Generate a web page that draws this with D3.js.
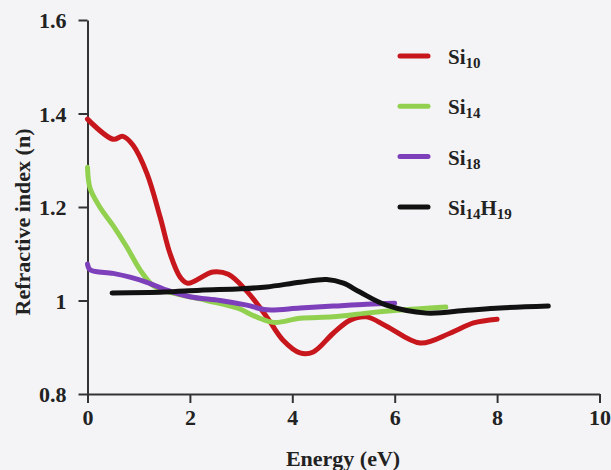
<!DOCTYPE html>
<html>
<head>
<meta charset="utf-8">
<script src="https://cdn.jsdelivr.net/npm/d3@7"></script>
<style>
  body { margin: 0; background: #f4f4f6; }
  svg { display: block; }
  .axis path, .axis line { stroke: #333; stroke-width: 2; }
  .axis text { font-family: "Liberation Serif", serif; font-weight: bold; font-size: 22px; fill: #222; }
</style>
</head>
<body>
<svg width="611" height="470"></svg>
<script>
// Energy (eV) / refractive index values
const si10X = [0, 0.5, 0.69, 0.89, 1.16, 1.42, 1.61, 1.81, 1.96, 2.45, 2.75, 3.11, 3.5, 3.82, 4.15, 4.41, 4.8, 5.13, 5.45, 5.84, 6.5, 7.08, 7.54, 8.0];
const si10Y = [1.388, 1.345, 1.351, 1.332, 1.272, 1.178, 1.101, 1.05, 1.037, 1.061, 1.056, 1.02, 0.965, 0.915, 0.888, 0.89, 0.93, 0.958, 0.965, 0.945, 0.909, 0.93, 0.952, 0.96];

const si14X = [0, 0.05, 0.24, 0.5, 0.77, 1.03, 1.28, 1.6, 2.33, 2.92, 3.3, 3.65, 4.15, 4.8, 5.45, 6.05, 7.0];
const si14Y = [1.285, 1.24, 1.2, 1.16, 1.114, 1.065, 1.032, 1.018, 1.0, 0.984, 0.965, 0.953, 0.962, 0.965, 0.973, 0.979, 0.986];

const si18X = [0, 0.05, 0.5, 0.83, 1.16, 1.55, 2.0, 2.59, 3.11, 3.5, 4.15, 4.8, 5.45, 6.0];
const si18Y = [1.078, 1.066, 1.058, 1.05, 1.039, 1.022, 1.008, 1.0, 0.99, 0.98, 0.984, 0.988, 0.992, 0.994];

const si14h19X = [0.48, 1.5, 2.2, 3.0, 3.5, 4.15, 4.67, 5.0, 5.32, 5.84, 6.62, 7.41, 8.06, 9.0];
const si14h19Y = [1.016, 1.018, 1.022, 1.025, 1.029, 1.039, 1.045, 1.037, 1.018, 0.99, 0.973, 0.979, 0.984, 0.988];

const seriesNames = ["10", "14", "18", "14H19"];
const seriesColors = ["#c8161d", "#92d050", "#7d3fba", "#111111"];
const xTicks = [0, 2, 4, 6, 8, 10];
const yTicks = [0.8, 1, 1.2, 1.4, 1.6];

const series = [
  { name: "10", xs: si10X, ys: si10Y },
  { name: "14", xs: si14X, ys: si14Y },
  { name: "18", xs: si18X, ys: si18Y },
  { name: "14H19", xs: si14h19X, ys: si14h19Y }
];

const svg = d3.select("svg");

const x = d3.scaleLinear().domain([0, 10]).range([87.5, 599.5]);
const y = d3.scaleLinear().domain([0.8, 1.6]).range([394, 20]);

// axes
svg.append("g")
  .attr("class", "axis")
  .attr("transform", "translate(0,394)")
  .call(d3.axisBottom(x).tickValues(xTicks).tickFormat(d3.format("d")).tickSize(9).tickSizeOuter(0).tickPadding(14));

svg.append("g")
  .attr("class", "axis")
  .attr("transform", "translate(87.5,0)")
  .call(d3.axisLeft(y).tickValues(yTicks).tickFormat(d => d === 1 ? "1" : d3.format(".1f")(d)).tickSize(9).tickSizeOuter(0).tickPadding(12));

svg.selectAll(".axis text").attr("dy", "0.35em");

// lines
const line = d3.line()
  .x(d => x(d[0]))
  .y(d => y(d[1]))
  .curve(d3.curveCatmullRom.alpha(0.5));

series.forEach((s, i) => {
  svg.append("path")
    .datum(s.xs.map((v, j) => [v, s.ys[j]]))
    .attr("fill", "none")
    .attr("stroke", seriesColors[i])
    .attr("stroke-width", 5)
    .attr("stroke-linecap", "round")
    .attr("stroke-linejoin", "round")
    .attr("d", line);
});

// legend
const legend = svg.append("g").attr("transform", "translate(400,56)");
seriesNames.forEach((n, i) => {
  const g = legend.append("g").attr("transform", `translate(0,${i * 50.3})`);
  g.append("line")
    .attr("x1", 0).attr("x2", 28)
    .attr("stroke", seriesColors[i])
    .attr("stroke-width", 5)
    .attr("stroke-linecap", "round");
  const t = g.append("text")
    .attr("x", 48).attr("y", 8)
    .attr("font-family", "Liberation Serif, serif")
    .attr("font-weight", "bold")
    .attr("font-size", 21)
    .attr("fill", "#222");
  t.append("tspan").text("Si");
  n.match(/\d+|[A-Z]+/g).forEach(p => {
    if (/\d/.test(p)) {
      t.append("tspan").attr("font-size", 15).attr("dy", 4).text(p);
    } else {
      t.append("tspan").attr("dy", -4).text(p);
    }
  });
});

// axis titles
svg.append("text")
  .attr("x", 343).attr("y", 466)
  .attr("text-anchor", "middle")
  .attr("font-family", "Liberation Serif, serif")
  .attr("font-weight", "bold")
  .attr("font-size", 22)
  .attr("fill", "#222")
  .text("Energy (eV)");

svg.append("text")
  .attr("transform", "translate(30,222) rotate(-90)")
  .attr("text-anchor", "middle")
  .attr("font-family", "Liberation Serif, serif")
  .attr("font-weight", "bold")
  .attr("font-size", 22)
  .attr("fill", "#222")
  .text("Refractive index (n)");
</script>
</body>
</html>
